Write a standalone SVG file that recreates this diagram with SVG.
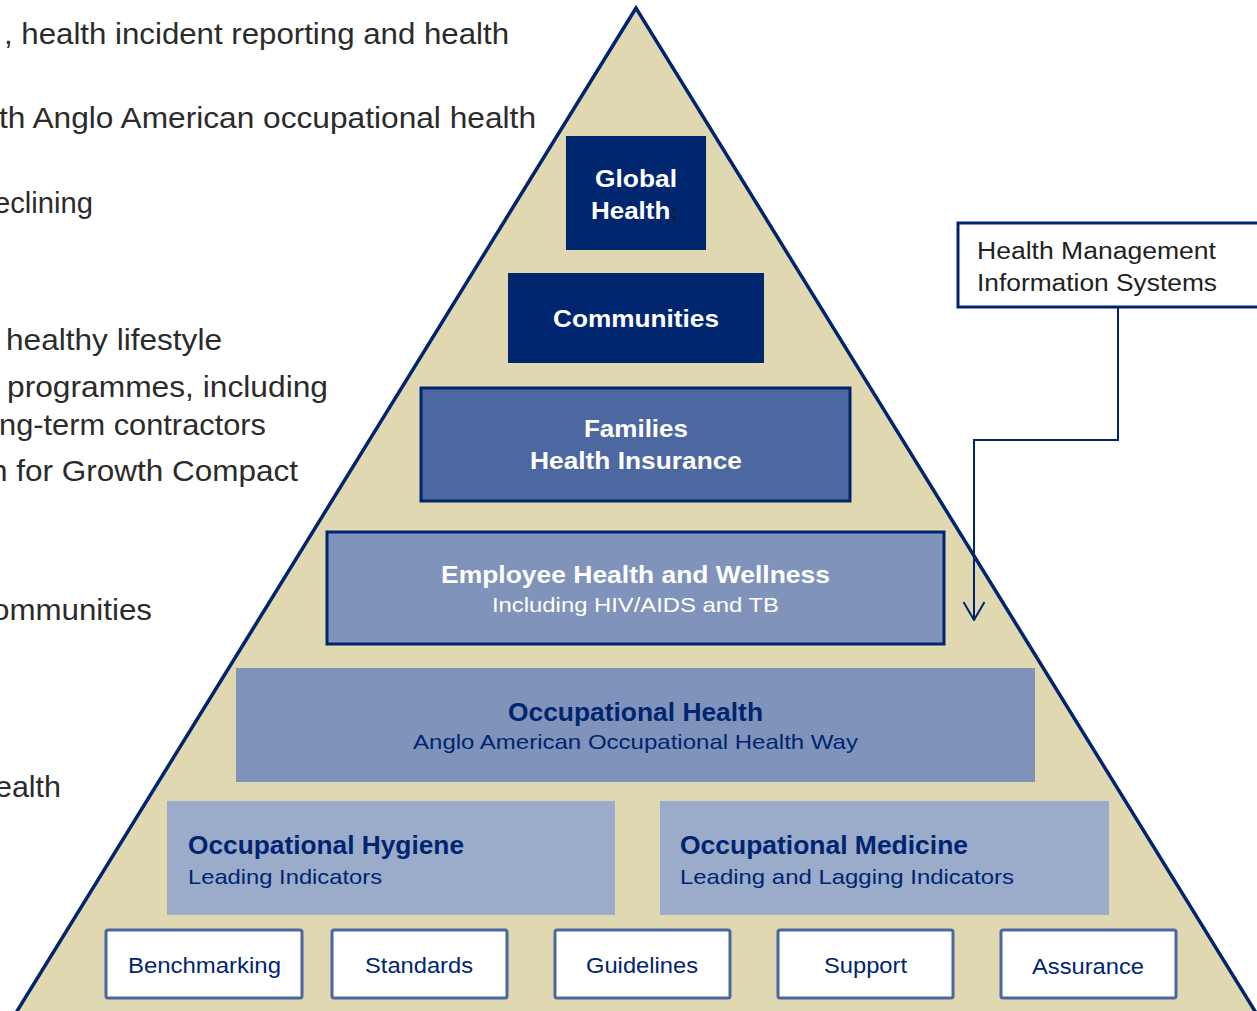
<svg xmlns="http://www.w3.org/2000/svg" width="1257" height="1011" viewBox="0 0 1257 1011">
<style>
text{font-family:"Liberation Sans",Arial,sans-serif}
.side{font-size:29px;fill:#2b2b2b}
.wb{font-size:24px;font-weight:bold;fill:#ffffff}
.wr{font-size:21px;fill:#ffffff}
.nb{font-size:25px;font-weight:bold;fill:#002570}
.nr{font-size:21px;fill:#002570}
.foot{fill:#ffffff;stroke:#4a67a1;stroke-width:3}
.ft{font-size:22px;fill:#002570}
.hm{font-size:23px;fill:#222222}
</style>
<defs>
<marker id="arr" viewBox="0 0 20 24" refX="19" refY="12" markerWidth="20" markerHeight="24" markerUnits="userSpaceOnUse" orient="auto">
<path d="M1,1.5 L19,12 L1,22.5" fill="none" stroke="#002570" stroke-width="2"/>
</marker>
</defs>
<rect width="1257" height="1011" fill="#ffffff"/>
<g id="side-text">
<text class="side" x="4" y="44" textLength="505" lengthAdjust="spacingAndGlyphs">, health incident reporting and health</text>
<text class="side" x="-1" y="128" textLength="537" lengthAdjust="spacingAndGlyphs">th Anglo American occupational health</text>
<text class="side" x="-6" y="213" textLength="99" lengthAdjust="spacingAndGlyphs">eclining</text>
<text class="side" x="6" y="350" textLength="216" lengthAdjust="spacingAndGlyphs">healthy lifestyle</text>
<text class="side" x="7" y="397" textLength="321" lengthAdjust="spacingAndGlyphs">programmes, including</text>
<text class="side" x="-1" y="435" textLength="267" lengthAdjust="spacingAndGlyphs">ng-term contractors</text>
<text class="side" x="-10" y="481" textLength="308" lengthAdjust="spacingAndGlyphs">n for Growth Compact</text>
<text class="side" x="-8" y="620" textLength="160" lengthAdjust="spacingAndGlyphs">ommunities</text>
<text class="side" x="-5" y="797" textLength="66" lengthAdjust="spacingAndGlyphs">ealth</text>
</g>
<g id="pyramid">
<polygon points="636,8 14,1016 1258,1016" fill="#e0d8b0" stroke="#00246e" stroke-width="3.5"/>
</g>
<g id="global-health">
<rect x="566" y="136" width="140" height="114" fill="#00266f"/>
<text class="wb" x="595" y="187" textLength="82" lengthAdjust="spacingAndGlyphs">Global</text>
<text class="wb" x="591" y="219" textLength="88" lengthAdjust="spacingAndGlyphs">Health<tspan fill="#1b1b30">;</tspan></text>
</g>
<g id="communities">
<rect x="508" y="273" width="256" height="90" fill="#00266f"/>
<text class="wb" x="553" y="327" textLength="166" lengthAdjust="spacingAndGlyphs">Communities</text>
</g>
<g id="families">
<rect x="421" y="388" width="429" height="113" fill="#4d68a0" stroke="#00246e" stroke-width="3"/>
<text class="wb" x="584" y="437" textLength="104" lengthAdjust="spacingAndGlyphs">Families</text>
<text class="wb" x="530" y="469" textLength="212" lengthAdjust="spacingAndGlyphs">Health Insurance</text>
</g>
<g id="employee">
<rect x="327" y="532" width="617" height="112" fill="#7f93bb" stroke="#00246e" stroke-width="3"/>
<text class="wb" x="441" y="583" textLength="389" lengthAdjust="spacingAndGlyphs">Employee Health and Wellness</text>
<text class="wr" x="492" y="612" textLength="287" lengthAdjust="spacingAndGlyphs">Including HIV/AIDS and TB</text>
</g>
<g id="occ-health">
<rect x="236" y="668" width="799" height="114" fill="#7f93bb"/>
<text class="nb" x="508" y="721" textLength="255" lengthAdjust="spacingAndGlyphs">Occupational Health</text>
<text class="nr" x="413" y="749" textLength="445" lengthAdjust="spacingAndGlyphs">Anglo American Occupational Health Way</text>
</g>
<g id="occ-hygiene">
<rect x="167" y="801" width="448" height="114" fill="#9aacca"/>
<text class="nb" x="188" y="854" textLength="276" lengthAdjust="spacingAndGlyphs">Occupational Hygiene</text>
<text class="nr" x="188" y="884" textLength="194" lengthAdjust="spacingAndGlyphs">Leading Indicators</text>
</g>
<g id="occ-medicine">
<rect x="660" y="801" width="449" height="114" fill="#9aacca"/>
<text class="nb" x="680" y="854" textLength="288" lengthAdjust="spacingAndGlyphs">Occupational Medicine</text>
<text class="nr" x="680" y="884" textLength="334" lengthAdjust="spacingAndGlyphs">Leading and Lagging Indicators</text>
</g>
<g id="benchmarking">
<rect class="foot" x="106" y="930" width="196" height="68" rx="2"/>
<text class="ft" x="128" y="973" textLength="153" lengthAdjust="spacingAndGlyphs">Benchmarking</text>
</g>
<g id="standards">
<rect class="foot" x="332" y="930" width="175" height="68" rx="2"/>
<text class="ft" x="365" y="973" textLength="108" lengthAdjust="spacingAndGlyphs">Standards</text>
</g>
<g id="guidelines">
<rect class="foot" x="555" y="930" width="175" height="68" rx="2"/>
<text class="ft" x="586" y="973" textLength="112" lengthAdjust="spacingAndGlyphs">Guidelines</text>
</g>
<g id="support">
<rect class="foot" x="778" y="930" width="175" height="68" rx="2"/>
<text class="ft" x="824" y="973" textLength="83" lengthAdjust="spacingAndGlyphs">Support</text>
</g>
<g id="assurance">
<rect class="foot" x="1001" y="930" width="175" height="68" rx="2"/>
<text class="ft" x="1032" y="974" textLength="112" lengthAdjust="spacingAndGlyphs">Assurance</text>
</g>
<g id="hmis">
<rect x="958" y="223" width="304" height="84" fill="#ffffff" stroke="#00246e" stroke-width="3"/>
<text class="hm" x="977" y="259" textLength="239" lengthAdjust="spacingAndGlyphs">Health Management</text>
<text class="hm" x="977" y="291" textLength="240" lengthAdjust="spacingAndGlyphs">Information Systems</text>
</g>
<g id="connectors">
<polyline points="1118,308 1118,440 974,440 974,620" fill="none" stroke="#00246e" stroke-width="2" marker-end="url(#arr)"/>
</g>
</svg>
